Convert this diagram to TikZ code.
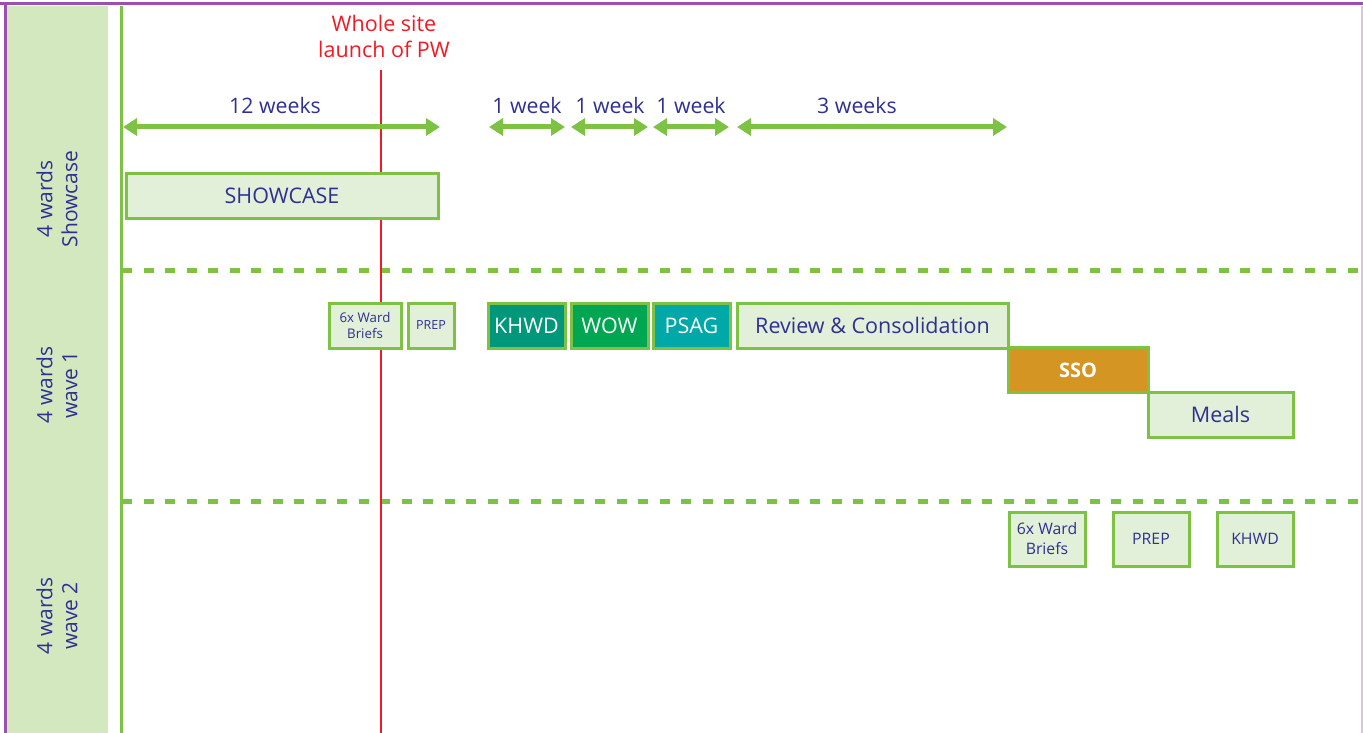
\documentclass[tikz,border=0pt]{standalone}
\usepackage{fontspec}
\setmainfont{Open Sans}
\usetikzlibrary{arrows.meta}
\definecolor{ink}{HTML}{2E3192}
\definecolor{leaf}{HTML}{7DC243}
\definecolor{pale}{HTML}{E2EFD9}
\definecolor{side}{HTML}{D4E8C0}
\definecolor{frame}{HTML}{9B4FB0}
\definecolor{launch}{HTML}{ED1C24}
\definecolor{khwd}{HTML}{00977A}
\definecolor{wow}{HTML}{00A651}
\definecolor{psag}{HTML}{00A9A8}
\definecolor{sso}{HTML}{D49522}
\tikzset{
  task/.style={draw=leaf, line width=3pt, fill=pale, text=ink, inner sep=0pt,
    minimum height=45pt, align=center, font=\fontsize{21.5}{24}\selectfont},
  bold/.style={task, text=white, font=\fontsize{21.5}{24}\selectfont},
  small/.style={task, font=\fontsize{13.3}{16}\selectfont},
  span/.style={leaf, line width=5pt, {Triangle[length=14pt,width=17pt]}-{Triangle[length=14pt,width=17pt]}},
  lbl/.style={text=ink, font=\fontsize{21.3}{24}\selectfont},
  row/.style={text=ink, rotate=90, align=center, font=\fontsize{21}{25}\selectfont},
  divide/.style={leaf, line width=5pt, dash pattern=on 10pt off 11.5pt}
}
\begin{document}
\begin{tikzpicture}[x=1pt, y=-1pt]
  \useasboundingbox (0,0) rectangle (1363,733);
  % frame and side column
  \fill[side] (7,6) rectangle (108,733);
  \draw[frame, line width=3pt] (0,4) -- (1363,4);
  \draw[frame, line width=3pt] (5,4) -- (5,733);
  \draw[frame!35, line width=2pt] (1362,6) -- (1362,733);
  \draw[leaf, line width=3pt] (121,6) -- (121,733);
  \draw[divide] (122,270) -- (1363,270);
  \draw[divide] (122,501) -- (1363,501);
  % row labels
  \node[row] (r0) at (57,199) {4 wards\\Showcase};
  \node[row] (r1) at (57,385) {4 wards\\wave 1};
  \node[row] (r2) at (57,616) {4 wards\\wave 2};
  % launch line
  \node[text=launch, align=center, font=\fontsize{21.5}{26}\selectfont] (pw) at (384,36) {Whole site\\launch of PW};
  \coordinate (pwtop) at (381,70);
  \coordinate (pwbot) at (381,733);
  \draw[launch, line width=2.3pt] (pwtop) -- (pwbot);
  % durations
  \coordinate (a0) at (123,127); \coordinate (b0) at (440,127);
  \coordinate (a1) at (489,127); \coordinate (b1) at (565,127);
  \coordinate (a2) at (571,127); \coordinate (b2) at (648,127);
  \coordinate (a3) at (653,127); \coordinate (b3) at (729,127);
  \coordinate (a4) at (737,127); \coordinate (b4) at (1007,127);
  \begin{scope}
    \draw[span] (a0) -- (b0);
    \draw[span] (a1) -- (b1);
    \draw[span] (a2) -- (b2);
    \draw[span] (a3) -- (b3);
    \draw[span] (a4) -- (b4);
  \end{scope}
  \node[lbl] (w0) at (275,106) {12 weeks};
  \node[lbl] (w1) at (527,106) {1 week};
  \node[lbl] (w2) at (610,106) {1 week};
  \node[lbl] (w3) at (691,106) {1 week};
  \node[lbl] (w4) at (857,106) {3 weeks};
  % showcase
  \node[task, minimum width=312pt, minimum height=44pt] (show) at (282,196) {SHOWCASE};
  % wave 1
  \node[small, minimum width=72pt] (brief1) at (365,325.5) {6x Ward\\Briefs};
  \node[small, minimum width=46pt, font=\fontsize{12.5}{15}\selectfont] (prep1) at (431,325.5) {PREP};
  \node[bold, fill=khwd, minimum width=77pt] (khwd1) at (526.5,325.5) {KHWD};
  \node[bold, fill=wow, minimum width=77pt] (wow1) at (609.5,325.5) {WOW};
  \node[bold, fill=psag, minimum width=77pt] (psag1) at (691.5,325.5) {PSAG};
  \node[task, minimum width=271pt] (review) at (872.5,325.5) {Review \& Consolidation};
  \node[bold, fill=sso, minimum width=140pt, font=\bfseries\fontsize{20}{22}\selectfont] (sso) at (1078,370) {SSO};
  \node[task, minimum width=145pt] (meals) at (1220.5,414.5) {Meals};
  % wave 2
  \node[small, minimum width=76pt, minimum height=54pt, font=\fontsize{15.8}{20}\selectfont] (brief2) at (1047,539) {6x Ward\\Briefs};
  \node[small, minimum width=76pt, minimum height=54pt, font=\fontsize{15.8}{20}\selectfont] (prep2) at (1151,539) {PREP};
  \node[small, minimum width=76pt, minimum height=54pt, font=\fontsize{15.8}{20}\selectfont] (khwd2) at (1255,539) {KHWD};
\end{tikzpicture}
\end{document}
